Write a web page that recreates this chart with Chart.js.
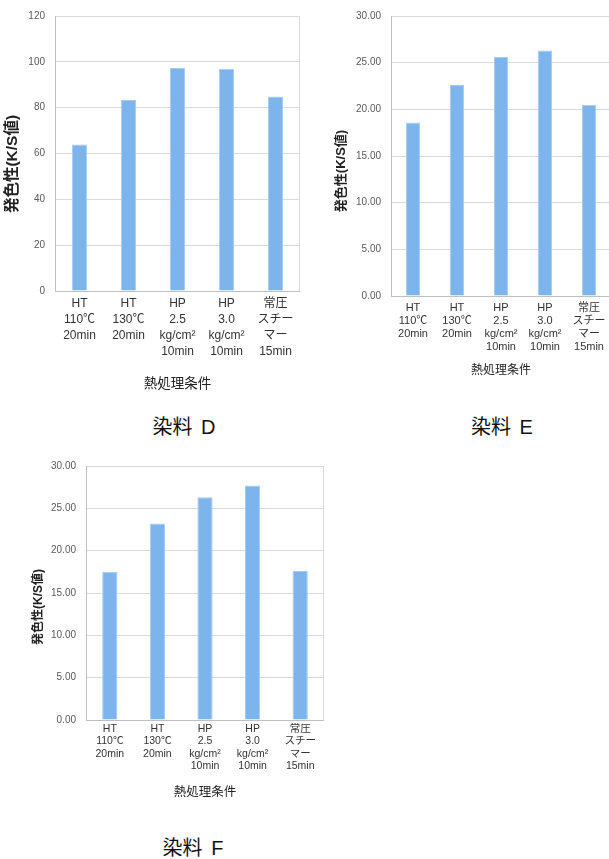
<!DOCTYPE html>
<html>
<head>
<meta charset="utf-8">
<script src="https://cdn.jsdelivr.net/npm/chart.js@4"></script>
<style>
  html, body { margin: 0; padding: 0; background: #fff; width: 609px; height: 859px; overflow: hidden; }
  .box { position: absolute; }
  .dye { position: absolute; font-family: "Liberation Sans", "Noto Sans CJK JP", sans-serif; font-size: 20px; color: #111; transform: translate(-50%, -50%); white-space: nowrap; word-spacing: 3px; }
</style>
</head>
<body>
<div class="box" style="left:0;top:0;"><canvas id="chartD" width="300" height="396"></canvas></div>
<div class="box" style="left:330px;top:0;"><canvas id="chartE" width="281" height="382"></canvas></div>
<div class="box" style="left:0;top:450px;"><canvas id="chartF" width="324" height="354"></canvas></div>
<div class="dye" style="left:184px;top:425px;">染料 D</div>
<div class="dye" style="left:502px;top:425px;">染料 E</div>
<div class="dye" style="left:193px;top:846px;">染料 F</div>
<script>
const categories = [
    ['HT', '110℃', '20min'],
    ['HT', '130℃', '20min'],
    ['HP', '2.5', 'kg/cm²', '10min'],
    ['HP', '3.0', 'kg/cm²', '10min'],
    ['常圧', 'スチー', 'マー', '15min']
];
const dyeD = [63.9, 83.4, 97.3, 97.0, 84.9];
const dyeE = [18.6, 22.6, 25.6, 26.3, 20.5];
const dyeF = [17.5, 23.2, 26.3, 27.7, 17.6];
const yTitle = '発色性(K/S値)';
const xTitle = '熱処理条件';

const FONT = '"Liberation Sans", "Noto Sans CJK JP", sans-serif';

// right border of the plot area + rotated y title
const frame = {
    id: 'frame',
    afterDraw(chart, args, opts) {
        const c = chart.ctx;
        const a = chart.chartArea;
        c.save();
        c.strokeStyle = '#d9d9d9';
        c.lineWidth = 1;
        c.beginPath();
        c.moveTo(Math.round(a.right) - 0.5, a.top);
        c.lineTo(Math.round(a.right) - 0.5, a.bottom);
        c.stroke();
        c.translate(opts.tx, opts.ty);
        c.rotate(-Math.PI / 2);
        c.font = opts.weight + ' ' + opts.size + 'px ' + FONT;
        c.fillStyle = '#222';
        c.textAlign = 'center';
        c.textBaseline = 'middle';
        c.fillText(yTitle, 0, 0);
        c.restore();
    }
};

function makeChart(id, values, cfg) {
    new Chart(document.getElementById(id), {
        type: 'bar',
        data: {
            labels: categories,
            datasets: [{
                data: values,
                backgroundColor: '#7db4ec',
                borderColor: '#a6ccf2',
                borderWidth: 1,
                categoryPercentage: 1,
                barPercentage: cfg.bar
            }]
        },
        options: {
            responsive: false,
            animation: false,
            devicePixelRatio: 1,
            layout: { padding: { top: cfg.top, right: 0, left: 0, bottom: 0 } },
            plugins: {
                legend: { display: false },
                tooltip: { enabled: false },
                frame: { tx: cfg.tx, ty: cfg.ty, size: cfg.ySize, weight: cfg.yWeight }
            },
            scales: {
                x: {
                    grid: { display: false, drawTicks: false },
                    border: { color: '#bfbfbf' },
                    ticks: {
                        color: '#333',
                        padding: cfg.xPad,
                        maxRotation: 0,
                        autoSkip: false,
                        font: { family: FONT, size: cfg.xSize, lineHeight: cfg.xLine }
                    },
                    title: {
                        display: true,
                        text: xTitle,
                        color: '#222',
                        font: { family: FONT, size: cfg.tSize }
                    },
                    afterFit(s) { s.height = cfg.xH; }
                },
                y: {
                    min: 0,
                    max: cfg.max,
                    grid: { color: '#d9d9d9', drawTicks: false },
                    border: { color: '#bfbfbf' },
                    ticks: {
                        stepSize: cfg.step,
                        color: '#595959',
                        padding: 10,
                        font: { family: FONT, size: 10 },
                        callback: v => cfg.fixed ? v.toFixed(2) : v
                    },
                    afterFit(s) { s.width = cfg.yW; }
                }
            }
        },
        plugins: [frame]
    });
}

makeChart('chartD', dyeD, {
    max: 120, step: 20, fixed: false, bar: 0.31, top: 14, yW: 55,
    xH: 105, xPad: 5, xSize: 12, xLine: 1.33, tSize: 13.5,
    tx: 13, ty: 164, ySize: 15.5, yWeight: 'bold'
});
makeChart('chartE', dyeE, {
    max: 30, step: 5, fixed: true, bar: 0.32, top: 16, yW: 61,
    xH: 86, xPad: 5, xSize: 11, xLine: 1.2, tSize: 12,
    tx: 11, ty: 171, ySize: 13, yWeight: 'bold'
});
makeChart('chartF', dyeF, {
    max: 30, step: 5, fixed: true, bar: 0.32, top: 16, yW: 86,
    xH: 84, xPad: 3, xSize: 10.5, xLine: 1.18, tSize: 12.5,
    tx: 39, ty: 157, ySize: 12, yWeight: 'bold'
});
</script>
</body>
</html>
